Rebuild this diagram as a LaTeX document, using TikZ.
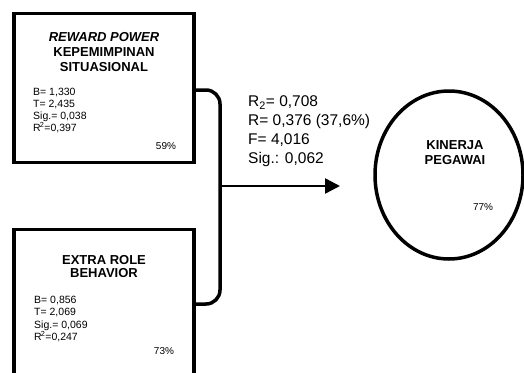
\documentclass[tikz,border=0pt]{standalone}
\usepackage{fontspec}
\setmainfont{Liberation Sans}
\usetikzlibrary{shapes.geometric,arrows.meta}

\begin{document}
\begin{tikzpicture}[x=1pt,y=-1pt,
  box/.style={draw,line width=3.5pt,inner sep=0pt,minimum width=180pt,minimum height=149pt},
  title/.style={font=\fontsize{13}{15}\selectfont\bfseries,align=center,inner sep=0pt},
  stats/.style={font=\fontsize{10.5}{12.3}\selectfont,align=left,anchor=west,inner sep=0pt},
  pct/.style={font=\fontsize{10}{12}\selectfont,inner sep=0pt},
  result/.style={font=\fontsize{15.5}{18.8}\selectfont,align=left,anchor=west,inner sep=0pt},
  link/.style={line width=3.5pt,rounded corners=14pt}
  ]
    \useasboundingbox (0,0) rectangle (524,372);
    \clip (0,0) rectangle (524,372);

    \node[box] (reward) at (104,88) {};
    \node[title] (rewardtitle) at (104,52) {\textit{REWARD POWER}\\KEPEMIMPINAN\\SITUASIONAL};
    \node[stats] (rewardstats) at (33,110.5) {B= 1,330\\T= 2,435\\Sig.= 0,038\\R\kern-1pt\textsuperscript{2}=0,397};
    \node[pct] (rewardpct) at (166,146) {59\%};

    \node[box] (extra) at (104,304) {};
    \node[title,font=\fontsize{13}{13.5}\selectfont\bfseries] (extratitle) at (104,266.5) {EXTRA ROLE\\BEHAVIOR};
    \node[stats] (extrastats) at (34,319) {B= 0,856\\T= 2,069\\Sig.= 0,069\\R\kern-1pt\textsuperscript{2}=0,247};
    \node[pct] (extrapct) at (164,351) {73\%};

    \node[ellipse,draw,line width=3.5pt,inner sep=0pt,minimum width=148pt,minimum height=168pt] (kinerja) at (449,175) {};
    \node[title] (kinerjatitle) at (455,152.5) {KINERJA\\PEGAWAI};
    \node[pct] (kinerjapct) at (483,207) {77\%};

    \node[result] (summary) at (248,131) {R\textsubscript{2}= 0,708\\R= 0,376 (37,6\%)\\F= 4,016\\Sig.: 0,062};

    \coordinate (spine) at (220,186);
    \coordinate (tip) at (340,186);
    \draw[link] ([yshift=-2pt]reward.east) -| (spine) |- (extra.east);
    \draw[line width=2.5pt,-{Triangle[length=15pt,width=15pt]}] (spine) -- (tip);
\end{tikzpicture}
\end{document}
